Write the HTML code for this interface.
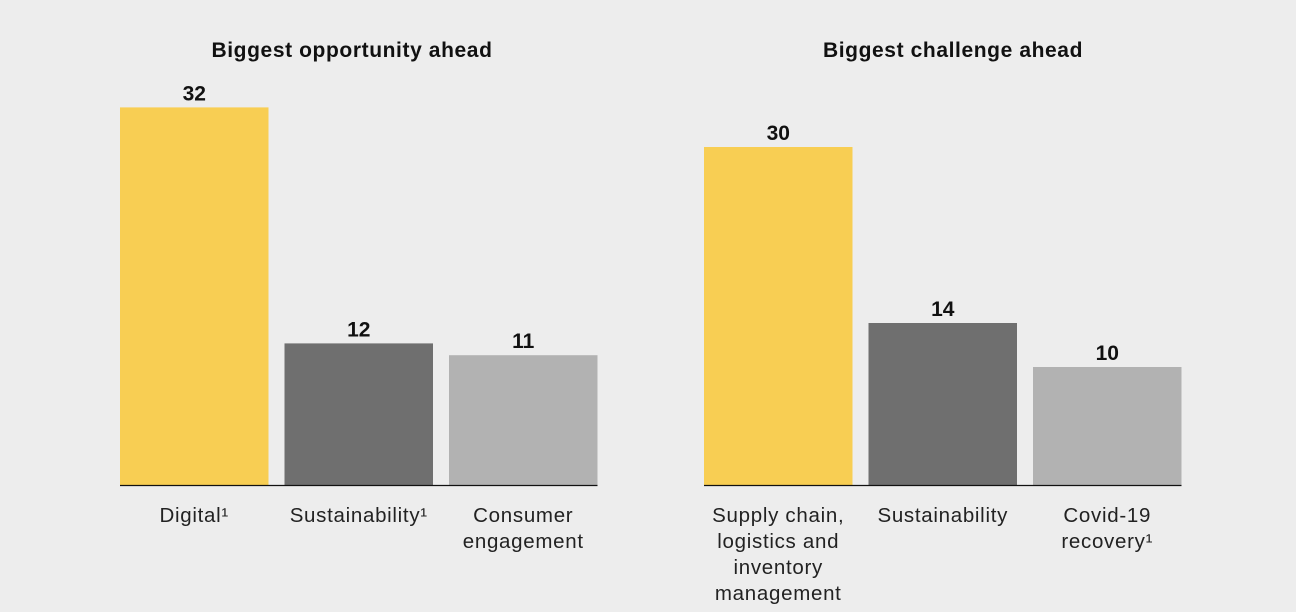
<!DOCTYPE html>
<html><head><meta charset="utf-8">
<style>
body{margin:0;width:1296px;height:612px;background:#ededed;overflow:hidden;font-family:"Liberation Sans",sans-serif;}
svg{display:block}
.t{font-weight:bold;font-size:21px;letter-spacing:0.6px;fill:#111;}
.v{font-weight:bold;font-size:21px;fill:#111;}
.c{font-size:20.5px;letter-spacing:0.7px;fill:#222;}
</style></head>
<body>
<svg id="chart" width="1296" height="612"></svg>
<script>
const leftCats=[["Digital¹"],["Sustainability¹"],["Consumer","engagement"]];
const leftVals=[32,12,11];
const rightCats=[["Supply chain,","logistics and","inventory","management"],["Sustainability"],["Covid-19","recovery¹"]];
const rightVals=[30,14,10];
const colors=["#f8ce53","#6f6f6f","#b2b2b2"];
const svg=document.getElementById('chart');
const NS="http://www.w3.org/2000/svg";
function mk(tag,attrs,parent){const e=document.createElementNS(NS,tag);for(const k in attrs)e.setAttribute(k,attrs[k]);(parent||svg).appendChild(e);return e;}
function drawPanel(name,title,cats,vals,x0,scale,offset,titleX){
  const g=mk('g',{});
  
  
  const base=485,bw=148.5,step=164.5;
  const tt=mk('text',{x:titleX,y:57,'text-anchor':'middle',class:'t'},g);tt.textContent=title;
  
  
  vals.forEach((v,i)=>{
    const x=x0+i*step,h=offset+v*scale;
    const r=mk('rect',{x:x,y:base-h,width:bw,height:h,fill:colors[i]},g);
    
    
    const vl=mk('text',{x:x+bw/2,y:base-h-7,'text-anchor':'middle',class:'v'},g);vl.textContent=v;
    
    
    cats[i].forEach((line,j)=>{
      const cl=mk('text',{x:x+bw/2,y:522+j*26,'text-anchor':'middle',class:'c'},g);cl.textContent=line;
      
      
    });
  });
  const ax=mk('line',{x1:x0,x2:x0+2*step+bw,y1:base+0.5,y2:base+0.5,stroke:'#111','stroke-width':1.2},g);
  
  
}
drawPanel('opportunity-chart','Biggest opportunity ahead',leftCats,leftVals,120,11.8,0,352);
drawPanel('challenge-chart','Biggest challenge ahead',rightCats,rightVals,704,11.0,8,953);
</script>
</body></html>
